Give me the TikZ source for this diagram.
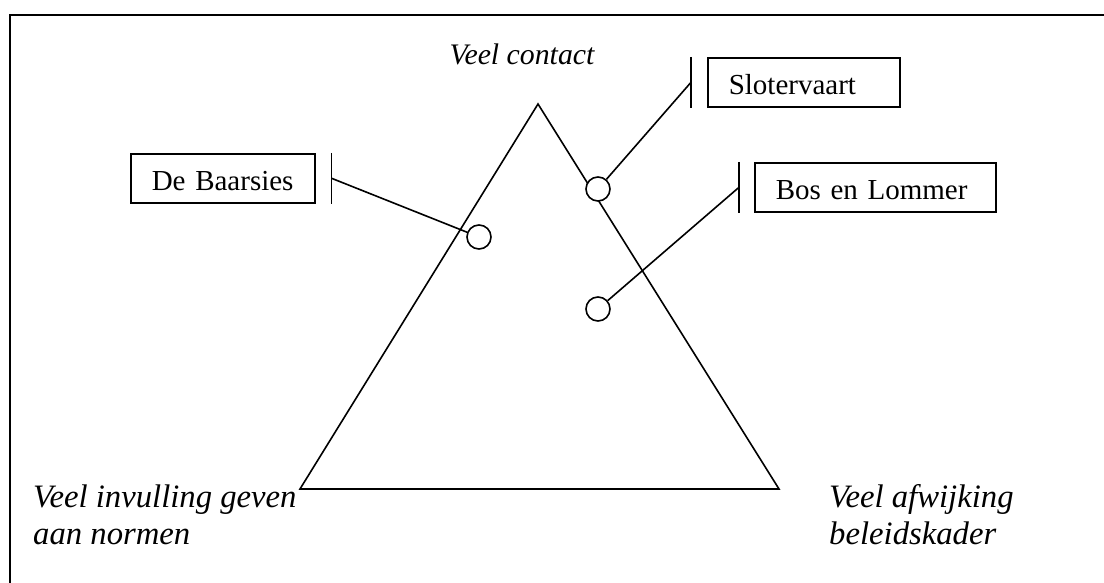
\documentclass[tikz,border=0pt]{standalone}
\usepackage{fontspec}
\setmainfont{Liberation Serif}
\usetikzlibrary{positioning, calc}

\begin{document}
\begin{tikzpicture}[
        x=1pt, y=-1pt,
        font=\fontsize{29}{37}\selectfont,
        district/.style={rectangle, draw=black, line width=1.6pt, anchor=north west, align=left, inner xsep=21pt, inner ysep=12pt, text height=25pt, text depth=0pt},
        marker/.style={circle, draw=black, fill=white, line width=1.6pt, minimum size=24pt, inner sep=0pt},
        corner/.style={font=\fontsize{32.7}{37}\selectfont\itshape, align=left, inner sep=0pt, anchor=base west},
        link/.style={line width=1.6pt},
    ]
        \useasboundingbox (0,0) rectangle (1104,583);

        % Frame - runs off the page to the right and at the bottom
        \draw [line width=2pt] (10,600) -- (10,15) -- (1130,15);

        % Triangle
        \coordinate (top) at (538,104);
        \coordinate (left) at (300,489);
        \coordinate (right) at (779,489);
        \draw [link] (top) -- (left) -- (right) -- cycle;

        % Corner labels (base = last line)
        \node (contact) [corner, font=\fontsize{29.8}{37}\selectfont\itshape, anchor=base] at (522,65) {Veel contact};
        \node (normen) [corner] at (33,544) {Veel invulling geven\\aan normen};
        \node (kader) [corner] at (829,544) {Veel afwijking\\beleidskader};

        % Districts
        \node (baarsies) [district, text width=142pt] at (130,153) {De Baarsies};
        \node (slotervaart) [district, text width=150pt] at (707,57) {Slotervaart};
        \node (boslommer) [district, text width=199pt] at (754,162) {Bos en Lommer};

        % Bars beside the boxes
        \coordinate [right=16pt of baarsies] (baarsiesbar);
        \coordinate [left=16pt of slotervaart] (slotervaartbar);
        \coordinate [left=15pt of boslommer] (boslommerbar);
        \draw [link] (baarsiesbar |- baarsies.north) -- (baarsiesbar |- baarsies.south);
        \draw [link] (slotervaartbar |- slotervaart.north) -- (slotervaartbar |- slotervaart.south);
        \draw [link] (boslommerbar |- boslommer.north) -- (boslommerbar |- boslommer.south);

        % Positions in the triangle
        \node (baarsiesdot) [marker] at (479,237) {};
        \node (slotervaartdot) [marker] at (598,189) {};
        \node (boslommerdot) [marker] at (598,309) {};

        % Connections
        \draw [link] (baarsiesbar) -- (baarsiesdot);
        \draw [link] (slotervaartbar) -- (slotervaartdot);
        \draw [link] (boslommerbar) -- (boslommerdot);
    \end{tikzpicture}
\end{document}
